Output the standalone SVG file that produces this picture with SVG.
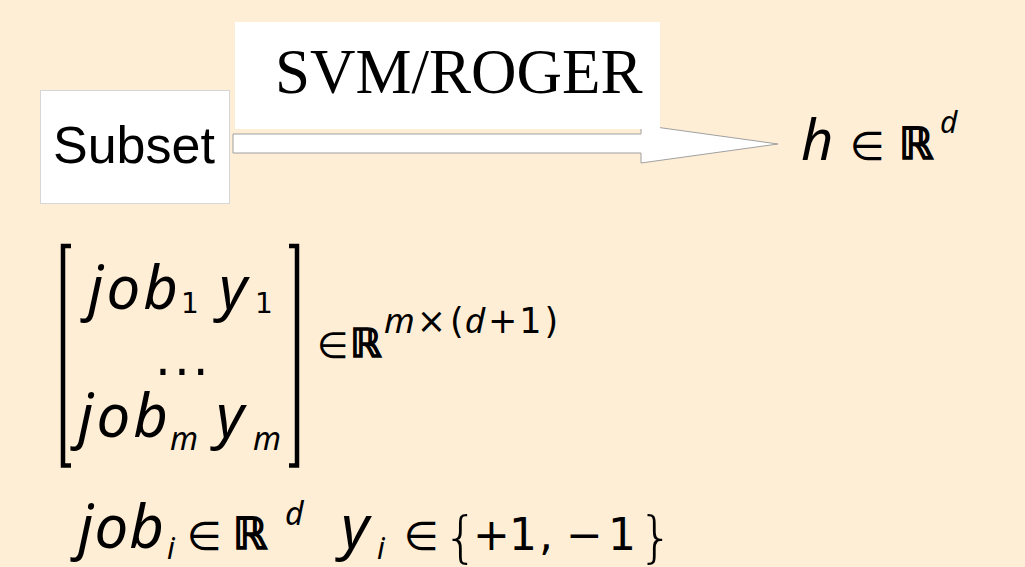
<svg xmlns="http://www.w3.org/2000/svg" width="1025" height="567" viewBox="0 0 1025 567">
<style>
.it{font-family:"Noto Sans","DejaVu Sans",sans-serif;font-style:italic;fill:#000}
.rm{font-family:"DejaVu Sans","Noto Sans",sans-serif;fill:#000}
.rr{font-family:"DejaVu Sans","Noto Sans",sans-serif;fill:#000;stroke:#000;stroke-width:1.6}
.br{fill:none;stroke:#000;stroke-width:4.5}
</style>
<rect width="1025" height="567" fill="#FFEED6"/>
<g id="connectors">
<polygon points="233,134 641,134 641,125 778,144 641,163 641,153 233,153" fill="#fff" stroke="#a0a0a0" stroke-width="1"/>
</g>
<g id="subset">
<rect x="40.5" y="90.5" width="189" height="113" fill="#fff" stroke="#d6d6d6"/>
<text x="53" y="163" font-family="Liberation Sans, Arial, sans-serif" font-size="52">Subset</text>
</g>
<g id="svm">
<rect x="235" y="22" width="425" height="107" fill="#fff"/>
<text x="275" y="93" font-family="Liberation Serif, Times New Roman, serif" font-size="63">SVM/ROGER</text>
</g>
<g id="h">
<text x="801" y="160" class="it" font-size="56">h</text>
<text x="850" y="160" class="rm" font-size="40">∈</text>
<text x="899" y="159" class="rr" font-size="44">ℝ</text>
<text x="940" y="133" class="it" font-size="30">d</text>
</g>
<g id="matrix">
<path class="br" d="M71,246 H63 V465.5 H71"/>
<path class="br" d="M289,246 H297 V465.5 H289"/>
<text x="88" y="309" class="it" font-size="60" letter-spacing="3">job</text>
<text x="181" y="313" class="rm" font-size="28">1</text>
<text x="219" y="309" class="it" font-size="60">y</text>
<text x="255" y="313" class="rm" font-size="28">1</text>
<text x="155" y="375" class="rm" font-size="50" letter-spacing="3">...</text>
<text x="78" y="437" class="it" font-size="60" letter-spacing="3">job</text>
<text x="170" y="450" class="it" font-size="32">m</text>
<text x="216" y="437" class="it" font-size="60">y</text>
<text x="253" y="450" class="it" font-size="32">m</text>
<text x="317" y="358" class="rm" font-size="36">∈</text>
<text x="350" y="357" class="rr" font-size="40">ℝ</text>
<text x="384" y="333" class="rm" font-size="35"><tspan class="it">m</tspan><tspan dx="2">×</tspan><tspan dx="4">(</tspan><tspan class="it" dx="1">d</tspan><tspan dx="3">+</tspan><tspan dx="2">1</tspan><tspan dx="3">)</tspan></text>
</g>
<g id="domain">
<text x="78" y="548" class="it" font-size="60" letter-spacing="1">job</text>
<text x="167" y="559" class="it" font-size="30">i</text>
<text x="187" y="550" class="rm" font-size="40">∈</text>
<text x="233" y="549" class="rr" font-size="44">ℝ</text>
<text x="285" y="525" class="it" font-size="32">d</text>
<text x="341" y="548" class="it" font-size="60">y</text>
<text x="377" y="559" class="it" font-size="30">i</text>
<text x="404" y="550" class="rm" font-size="40">∈</text>
<text x="443" y="556" class="rm" font-size="56" font-weight="300" letter-spacing="-12">{</text>
<text x="473" y="550" class="rm" font-size="44">+</text>
<text x="509" y="550" class="rm" font-size="44">1</text>
<text x="539" y="550" class="rm" font-size="44">,</text>
<text x="566" y="550" class="rm" font-size="44">−</text>
<text x="608" y="550" class="rm" font-size="44">1</text>
<text x="638" y="556" class="rm" font-size="56" font-weight="300">}</text>
</g>
</svg>
